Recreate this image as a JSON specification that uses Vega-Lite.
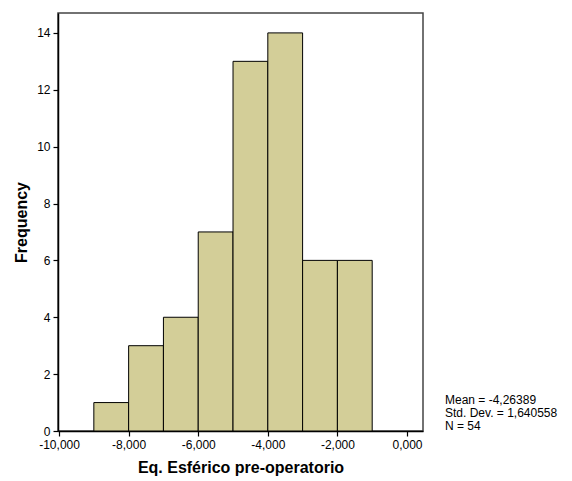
{
  "$schema": "https://vega.github.io/schema/vega-lite/v6.json",
  "width": 365,
  "height": 418,
  "autosize": "none",
  "padding": {"left": 58, "top": 13, "right": 149, "bottom": 50},
  "background": "white",
  "config": {
    "locale": {"number": {"decimal": ",", "thousands": ".", "grouping": [3], "currency": ["", ""], "minus": "-"}},
    "font": "Liberation Sans",
    "view": {"stroke": "#444444", "strokeWidth": 1.5},
    "axis": {"grid": false, "domainColor": "black", "domainWidth": 1.5, "tickColor": "black", "tickWidth": 1.2, "tickSize": 5, "labelFont": "Liberation Sans", "labelFontSize": 12, "labelColor": "black", "titleFont": "Liberation Sans", "titleFontSize": 16, "titleFontWeight": "bold", "titleColor": "black"}
  },
  "title": {
    "text": ["Mean = -4,26389", "Std. Dev. = 1,640558", "N = 54"],
    "orient": "bottom",
    "anchor": "end",
    "frame": "group",
    "align": "left",
    "baseline": "top",
    "font": "Liberation Sans",
    "fontSize": 12,
    "fontWeight": "normal",
    "color": "black",
    "lineHeight": 13,
    "dx": 22,
    "dy": -84
  },
  "data": {"values": [
    {"bin_start": -9, "bin_end": -8, "count": 1},
    {"bin_start": -8, "bin_end": -7, "count": 3},
    {"bin_start": -7, "bin_end": -6, "count": 4},
    {"bin_start": -6, "bin_end": -5, "count": 7},
    {"bin_start": -5, "bin_end": -4, "count": 13},
    {"bin_start": -4, "bin_end": -3, "count": 14},
    {"bin_start": -3, "bin_end": -2, "count": 6},
    {"bin_start": -2, "bin_end": -1, "count": 6}
  ]},
  "mark": {"type": "rect", "fill": "#D3CE98", "stroke": "black", "strokeWidth": 1},
  "encoding": {
    "x": {"field": "bin_start", "type": "quantitative",
      "scale": {"domain": [-10.03, 0.46], "nice": false, "zero": false},
      "axis": {"values": [-10, -8, -6, -4, -2, 0], "format": ".3f", "title": "Eq. Esférico pre-operatorio", "labelPadding": 3, "titlePadding": 9}},
    "x2": {"field": "bin_end"},
    "y": {"field": "count", "type": "quantitative",
      "scale": {"domain": [0, 14.7], "nice": false},
      "axis": {"values": [0, 2, 4, 6, 8, 10, 12, 14], "title": "Frequency", "labelPadding": 3, "titlePadding": 7}},
    "y2": {"datum": 0}
  }
}
